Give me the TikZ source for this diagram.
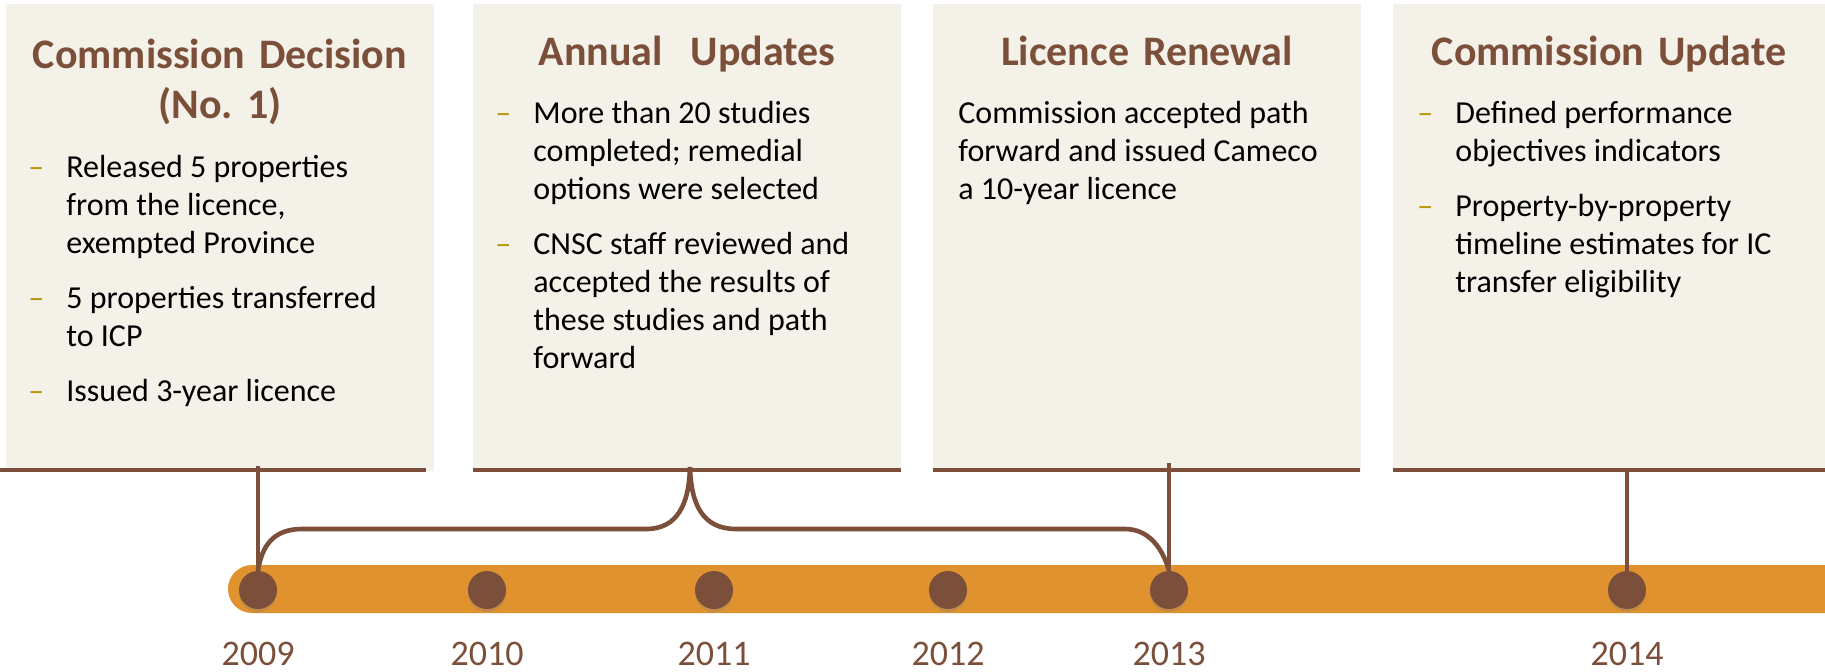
\documentclass[tikz,border=0pt]{standalone}
\usepackage{fontspec}
\setmainfont{Carlito}
\usepackage{xcolor}
\usetikzlibrary{positioning,shadows}
\definecolor{panelbg}{HTML}{F4F1E9}
\definecolor{tlbrown}{HTML}{7B4F3A}
\definecolor{tlorange}{HTML}{E0922E}
\definecolor{dashgold}{HTML}{B8960A}
\frenchspacing
\tikzset{
    panel/.style={
        fill=panelbg,
        draw=none,
        anchor=north west,
        inner sep=0pt,
        minimum height=233.5pt
    },
    panelrule/.style={draw=tlbrown, line width=2pt},
    heading/.style={
        font=\fontsize{21}{25}\selectfont\bfseries,
        text=tlbrown,
        text width=210pt,
        align=center,
        anchor=base,
        inner sep=0pt
    },
    body/.style={
        font=\fontsize{16}{19}\selectfont,
        anchor=base west,
        inner sep=0pt
    },
    yeardot/.style={
        circle,
        fill=tlbrown,
        minimum size=19pt,
        inner sep=0pt,
        drop shadow={shadow xshift=0pt, shadow yshift=-1.5pt, opacity=0.3}
    },
    yearlbl/.style={
        font=\fontsize{18}{22}\selectfont,
        text=tlbrown,
        inner sep=0pt
    },
    stem/.style={draw=tlbrown, line width=2.2pt},
    bracepath/.style={draw=tlbrown, line width=2.3pt}
}
\newcommand{\dashmark}{\textcolor{dashgold}{--}}

\begin{document}
\begin{tikzpicture}[x=0.5pt, y=-0.5pt]
  \useasboundingbox (0,0) rectangle (1825,671);

  % panels
  \node[panel, minimum width=214pt] (p1) at (6,4) {};
  \node[panel, minimum width=214pt] (p2) at (473,4) {};
  \node[panel, minimum width=214pt] (p3) at (933,4) {};
  \node[panel, minimum width=216pt] (p4) at (1393,4) {};
  \draw[panelrule] (0,470) -- (426,470);
  \draw[panelrule] (473,470) -- (901,470);
  \draw[panelrule] (933,470) -- (1360,470);
  \draw[panelrule] (1393,470) -- (1825,470);

  % timeline bar
  \fill[tlorange, rounded corners=12pt] (228,565) rectangle (1900,613);

  % year dots
  \node[yeardot] (d2009) at (258,590) {};
  \node[yeardot] (d2010) at (487,590) {};
  \node[yeardot] (d2011) at (714,590) {};
  \node[yeardot] (d2012) at (948,590) {};
  \node[yeardot] (d2013) at (1169,590) {};
  \node[yeardot] (d2014) at (1627,590) {};

  % years
  \foreach \yr in {2009,2010,2011,2012,2013,2014}
    \node[yearlbl, below=16pt of d\yr] (y\yr) {\yr};

  % stems up to the panels
  \draw[stem] (d2009) -- ([yshift=3pt]d2009 |- p1.south);
  \draw[stem] (d2013) -- ([yshift=4.5pt]d2013 |- p3.south);
  \draw[stem] (d2014) -- (d2014 |- p4.south);

  % brace 2009 -- 2013
  \coordinate (bracetip) at (690,467);
  \draw[bracepath] (d2009.north) .. controls (262,545) and (274,529) .. (302,529)
    -- (646,529) .. controls (677,529) and (689,505) .. (bracetip)
    .. controls (691,505) and (703,529) .. (736,529)
    -- (1125,529) .. controls (1150,529) and (1163,550) .. (d2013.north);

  % headings
  \node[heading] (t1) at (220,68) {Commission Decision\\(No. 1)};
  \node[heading] (t2) at (687,65) {Annual\ \ Updates};
  \node[heading] (t3) at (1147,65) {Licence Renewal};
  \node[heading] (t4) at (1609,65) {Commission Update};

  % panel texts
  \node[body] (b1) at (28,177) {\begin{tabular}[t]{@{}p{19pt}@{}l@{}}
    \dashmark & Released 5 properties\\
              & from the licence,\\
              & exempted Province\\[8.5pt]
    \dashmark & 5 properties transferred\\
              & to ICP\\[8.5pt]
    \dashmark & Issued 3-year licence
  \end{tabular}};
  \node[body] (b2) at (495,123) {\begin{tabular}[t]{@{}p{19pt}@{}l@{}}
    \dashmark & More than 20 studies\\
              & completed; remedial\\
              & options were selected\\[8.5pt]
    \dashmark & CNSC staff reviewed and\\
              & accepted the results of\\
              & these studies and path\\
              & forward
  \end{tabular}};
  \node[body] (b3) at (958,123) {\begin{tabular}[t]{@{}l@{}}
    Commission accepted path\\
    forward and issued Cameco\\
    a 10-year licence
  \end{tabular}};
  \node[body] (b4) at (1417,123) {\begin{tabular}[t]{@{}p{19pt}@{}l@{}}
    \dashmark & Defined performance\\
              & objectives indicators\\[8.5pt]
    \dashmark & Property-by-property\\
              & timeline estimates for IC\\
              & transfer eligibility
  \end{tabular}};
\end{tikzpicture}
\end{document}
